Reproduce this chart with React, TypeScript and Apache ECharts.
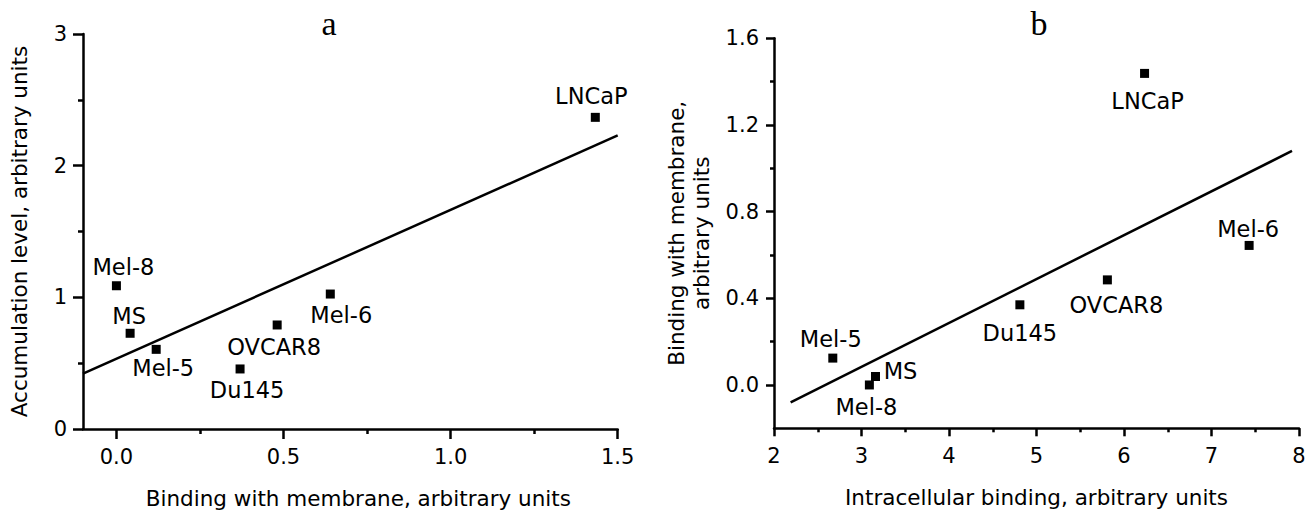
import React, { useEffect, useRef } from "react";
import * as echarts from "echarts";

// ---------- Data: panel a ----------
const cellLinesA = ["LNCaP", "Mel-8", "Mel-6", "OVCAR8", "MS", "Mel-5", "Du145"];
const membraneBindingA = [1.433, 0.0, 0.64, 0.481, 0.041, 0.119, 0.37];
const accumulationA = [2.367, 1.088, 1.025, 0.79, 0.727, 0.605, 0.456];
const fitAX = [-0.1, 1.5];
const fitAY = [0.42, 2.23];
const xMajorA = [0, 0.5, 1.0, 1.5];
const xMinorA = [0.25, 0.75, 1.25];
const yMajorA = [0, 1, 2, 3];
const yMinorA = [0.5, 1.5, 2.5];

// ---------- Data: panel b ----------
const cellLinesB = ["LNCaP", "Mel-6", "OVCAR8", "Du145", "Mel-5", "MS", "Mel-8"];
const intracellularB = [6.235, 7.43, 5.81, 4.81, 2.672, 3.16, 3.09];
const membraneB = [1.438, 0.644, 0.485, 0.37, 0.124, 0.039, 0.0];
const fitBX = [2.19, 7.92];
const fitBY = [-0.08, 1.08];
const xMajorB = [2, 3, 4, 5, 6, 7, 8];
const xMinorB = [2.5, 3.5, 4.5, 5.5, 6.5, 7.5];
const yMajorB = [0, 0.4, 0.8, 1.2, 1.6];
const yMinorB = [0.2, 0.6, 1.0, 1.4];

// ---------- Label placement (offset of label centre from point, px) ----------
const labelOffsetA: Record<string, number[]> = {
  LNCaP: [-4, -21],
  "Mel-8": [7, -19],
  MS: [-1, -17],
  "Mel-5": [7, 19],
  Du145: [7, 21],
  OVCAR8: [-3, 22],
  "Mel-6": [11, 21],
};
const labelOffsetB: Record<string, number[]> = {
  LNCaP: [3, 28],
  "Mel-6": [-1, -16],
  OVCAR8: [9, 25],
  Du145: [0, 28],
  "Mel-5": [-2, -19],
  MS: [25, -6],
  "Mel-8": [-3, 22],
};

const BLACK = "#000";
const SANS = "'DejaVu Sans', 'Liberation Sans', sans-serif";
const SERIF = "'Liberation Serif', 'Times New Roman', serif";

function axisPair(
  kind: "x" | "y",
  gridIndex: number,
  min: number,
  max: number,
  major: number[],
  minor: number[],
  fmt: (v: number) => string,
  name: string,
  nameGap: number,
  majorLen: number,
  minorLen: number,
  labelMargin: number,
  namePadding: number[] = [0, 0, 0, 0]
) {
  const lineStyle = { color: BLACK, width: 2.5 };
  const position = kind === "x" ? "bottom" : "left";
  const majorAxis = {
    type: "value",
    gridIndex,
    min,
    max,
    position,
    name,
    nameLocation: "middle",
    nameGap,
    nameTextStyle: { fontFamily: SANS, fontSize: 21.5, color: BLACK, lineHeight: 25, padding: namePadding },
    axisLine: { show: true, onZero: false, lineStyle },
    axisTick: { show: true, inside: false, length: majorLen, customValues: major, lineStyle },
    axisLabel: {
      show: true,
      customValues: major,
      formatter: (v: number) => fmt(v),
      margin: labelMargin,
      fontFamily: SANS,
      fontSize: 21,
      color: BLACK,
    },
    splitLine: { show: false },
    minorTick: { show: false },
  };
  const minorAxis = {
    type: "value",
    gridIndex,
    min,
    max,
    position,
    axisLine: { show: false, onZero: false },
    axisTick: { show: true, inside: false, length: minorLen, customValues: minor, lineStyle },
    axisLabel: { show: false },
    splitLine: { show: false },
    minorTick: { show: false },
  };
  return [majorAxis, minorAxis];
}

function scatterData(names: string[], xs: number[], ys: number[], offsets: Record<string, number[]>) {
  return names.map((n, i) => ({
    name: n,
    value: [xs[i], ys[i]],
    label: { offset: offsets[n] || [0, 0] },
  }));
}

export default function App() {
  const ref = useRef<HTMLDivElement>(null);

  useEffect(() => {
    document.body.style.margin = "0";
    if (!ref.current) return;
    const chart = echarts.init(ref.current, undefined, { renderer: "svg" });

    const [axM, axm] = axisPair("x", 0, -0.1, 1.5, xMajorA, xMinorA, (v) => v.toFixed(1),
      "Binding with membrane, arbitrary units", 57, 10, 5, 17, [0, 0, 0, 16]);
    const [ayM, aym] = axisPair("y", 0, 0, 3, yMajorA, yMinorA, (v) => String(v),
      "Accumulation level, arbitrary units", 51, 10, 5, 16);
    const [bxM, bxm] = axisPair("x", 1, 2, 8, xMajorB, xMinorB, (v) => String(v),
      "Intracellular binding, arbitrary units", 57, 8, 4, 17);
    const [byM, bym] = axisPair("y", 1, -0.2, 1.6, yMajorB, yMinorB, (v) => v.toFixed(1),
      "Binding with membrane,\narbitrary units", 60, 8, 4, 15);

    const pointLabel = {
      show: true,
      position: "inside",
      formatter: (p: any) => p.name,
      fontFamily: SANS,
      fontSize: 22.5,
      color: BLACK,
      opacity: 1,
    };

    const scatterCommon = {
      type: "scatter",
      symbol: "rect",
      symbolSize: 9,
      itemStyle: { color: BLACK, opacity: 1 },
      label: pointLabel,
      emphasis: { disabled: true },
      z: 3,
    };

    const option: any = {
      animation: false,
      backgroundColor: "#fff",
      grid: [
        { left: 83, right: 689.3, top: 34, bottom: 83, containLabel: false, outerBoundsMode: "none" },
        { left: 774, right: 8, top: 38.3, bottom: 83.7, containLabel: false, outerBoundsMode: "none" },
      ],
      xAxis: [axM, axm, bxM, bxm],
      yAxis: [ayM, aym, byM, bym],
      graphic: [
        {
          type: "text",
          x: 329,
          y: 23,
          style: { text: "a", fontFamily: SERIF, fontSize: 34, fill: BLACK, align: "center", verticalAlign: "middle" },
        },
        {
          type: "text",
          x: 1039,
          y: 23,
          style: { text: "b", fontFamily: SERIF, fontSize: 34, fill: BLACK, align: "center", verticalAlign: "middle" },
        },
      ],
      series: [
        {
          type: "line",
          xAxisIndex: 0,
          yAxisIndex: 0,
          data: fitAX.map((x, i) => [x, fitAY[i]]),
          symbol: "none",
          lineStyle: { color: BLACK, width: 2.5 },
          silent: true,
          z: 2,
        },
        {
          ...scatterCommon,
          xAxisIndex: 0,
          yAxisIndex: 0,
          data: scatterData(cellLinesA, membraneBindingA, accumulationA, labelOffsetA),
        },
        {
          type: "line",
          xAxisIndex: 2,
          yAxisIndex: 2,
          data: fitBX.map((x, i) => [x, fitBY[i]]),
          symbol: "none",
          lineStyle: { color: BLACK, width: 2.5 },
          silent: true,
          z: 2,
        },
        {
          ...scatterCommon,
          xAxisIndex: 2,
          yAxisIndex: 2,
          data: scatterData(cellLinesB, intracellularB, membraneB, labelOffsetB),
        },
      ],
    };

    chart.setOption(option);
    return () => chart.dispose();
  }, []);

  return <div ref={ref} style={{ width: 1307, height: 512 }} />;
}
